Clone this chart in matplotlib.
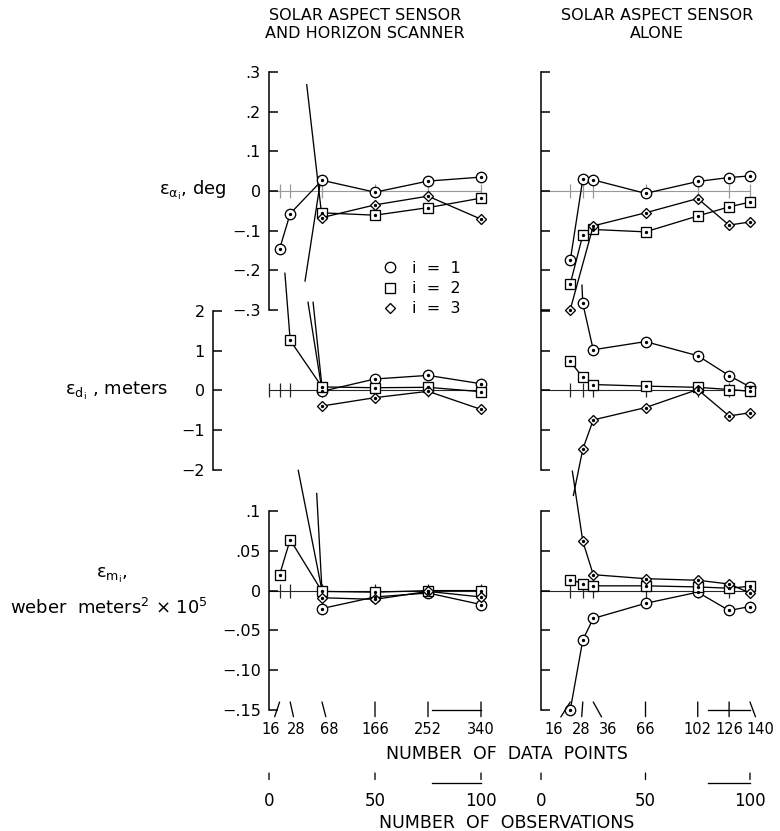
import numpy as np
import matplotlib
matplotlib.use('Agg')
import matplotlib.pyplot as plt
from matplotlib.lines import Line2D

plt.rcParams['font.family'] = ['DejaVu Sans']
plt.rcParams['mathtext.default'] = 'regular'

W, H = 780, 831
FS = 11.5
nan = np.nan

# ================================
# Data
# ================================
# number of observations at each solution, and the matching number of data points
obs_left = [5, 10, 25, 50, 75, 100]
obs_right = [14, 20, 25, 50, 75, 90, 100]
dp_left = ['16', '28', '68', '166', '252', '340']
dp_right = ['16', '28', '36', '66', '102', '126', '140']
obs_ticks = [0, 50, 100]

# solar aspect sensor and horizon scanner
alpha_left_1 = [-0.146, -0.057, 0.027, -0.003, 0.025, 0.035]
alpha_left_2 = [nan, nan, -0.055, -0.061, -0.042, -0.018]
alpha_left_3 = [nan, nan, -0.067, -0.035, -0.013, -0.071]
d_left_1 = [nan, nan, -0.02, 0.29, 0.38, 0.17]
d_left_2 = [nan, 1.26, 0.09, 0.07, 0.08, -0.03]
d_left_3 = [nan, nan, -0.39, -0.18, -0.02, -0.475]
m_left_1 = [nan, nan, -0.0225, -0.008, -0.003, -0.0175]
m_left_2 = [0.02, 0.064, -0.001, -0.002, 0.0, 0.0]
m_left_3 = [nan, nan, -0.009, -0.011, -0.001, -0.008]

# solar aspect sensor alone
alpha_right_1 = [-0.175, 0.03, 0.028, -0.006, 0.024, 0.034, 0.038]
alpha_right_2 = [-0.234, -0.111, -0.097, -0.103, -0.063, -0.040, -0.028]
alpha_right_3 = [-0.299, nan, -0.088, -0.055, -0.019, -0.086, -0.078]
d_right_1 = [nan, 2.19, 1.025, 1.23, 0.875, 0.375, 0.09]
d_right_2 = [0.73, 0.33, 0.15, 0.11, 0.08, 0.025, -0.02]
d_right_3 = [nan, -1.475, -0.74, -0.43, 0.025, -0.64, -0.56]
m_right_1 = [-0.15, -0.062, -0.035, -0.016, -0.002, -0.025, -0.02]
m_right_2 = [0.0138, 0.0088, 0.006, 0.006, 0.0046, 0.003, 0.0054]
m_right_3 = [nan, 0.062, 0.02, 0.015, 0.013, 0.0083, -0.003]

# pieces of line coming in from off-scale values: (obs0, val0, obs1, val1)
stubs_alpha_left = [(17.8, 0.268, 25, -0.067), (17.0, -0.227, 24.0, 0.015)]
stubs_d_left = [(7.5, 2.95, 10, 1.26), (18.4, 2.22, 25, 0.0), (20.8, 2.22, 25, 0.09)]
stubs_m_left = [(13.8, 0.151, 25, 0.0), (22.5, 0.122, 25, 0.0)]
stubs_alpha_right = []
stubs_d_right = [(19.6, 2.65, 20, 2.19), (15.5, -2.64, 20, -1.475)]
stubs_m_right = [(15.0, 0.15, 20, 0.062)]

# bracket marks along the bottom scales (obs from, obs to)
bracket_left = (77, 100)
bracket_right = (80, 100)

alpha_ticks = [0.3, 0.2, 0.1, 0, -0.1, -0.2, -0.3]
alpha_labels = ['.3', '.2', '.1', '0', '\u2212.1', '\u2212.2', '\u2212.3']
d_ticks = [2, 1, 0, -1, -2]
d_labels = ['2', '1', '0', '\u22121', '\u22122']
m_ticks = [0.1, 0.05, 0, -0.05, -0.10, -0.15]
m_labels = ['.1', '.05', '0', '\u2212.05', '\u2212.10', '\u2212.15']

# label shifts (pixels) for the crowded data point counts
dp_shift_left = [-9, 6, 7, 0, 0, 0]
dp_shift_right = [-17, -2, 15, 0, 0, 0, 10]

PT = 0.72  # points per pixel at 100 dpi
markers = [('o', 7.5), ('s', 6.5), ('D', 5.2)]

fig = plt.figure(figsize=(W / 100, H / 100), dpi=100)


def make_axes(left_px, spine_px, scale, top_px, bottom_px, ylim, xmax=110):
    xmin = (left_px - spine_px) / scale
    width = (xmax - xmin) * scale
    ax = fig.add_axes([left_px / W, 1 - bottom_px / H, width / W, (bottom_px - top_px) / H])
    ax.set_xlim(xmin, xmax)
    ax.set_ylim(*ylim)
    ax.patch.set_visible(False)
    for s in ('top', 'right', 'bottom'):
        ax.spines[s].set_visible(False)
    ax.spines['left'].set_linewidth(1.1)
    ax.tick_params(axis='y', direction='in', length=6.5, width=1.1, pad=6, labelsize=FS)
    ax.set_xticks([])
    return ax


def draw_panel(ax, obs, series, stubs, zero_color, with_origin_tick=False):
    ticks_x = list(obs) + ([0] if with_origin_tick else [])
    ax.plot([0, 100], [0, 0], color=zero_color, lw=0.8, zorder=1, clip_on=False)
    ax.plot(ticks_x, np.zeros(len(ticks_x)), ls='none', marker='|', ms=10,
            mew=0.9, color=zero_color, zorder=1, clip_on=False)
    for x0, y0, x1, y1 in stubs:
        ax.plot([x0, x1], [y0, y1], color='black', lw=0.95, zorder=2, clip_on=False)
    x = np.array(obs, dtype=float)
    for vals, (mk, ms) in zip(series, markers):
        v = np.array(vals, dtype=float)
        ok = ~np.isnan(v)
        ax.plot(x[ok], v[ok], color='black', lw=0.95, marker=mk, ms=ms, mfc='white',
                mec='black', mew=0.95, zorder=3, clip_on=False)
        ax.plot(x[ok], v[ok], ls='none', marker='o', ms=1.4, color='black',
                zorder=4, clip_on=False)


def count_row(ax, obs, labels, shifts, tick_px, label_px, shrink, size):
    # ticks with leader lines and count labels below the bottom of ax
    h_px = ax.get_position().height * H
    for x, lab, dx in zip(obs, labels, shifts):
        ax.annotate(lab, xy=(x, tick_px / h_px), xycoords=('data', 'axes fraction'),
                    xytext=(dx * PT, -label_px * PT), textcoords='offset points',
                    ha='center', va='center', fontsize=size, annotation_clip=False,
                    arrowprops=dict(arrowstyle='-', lw=0.95, color='black',
                                    shrinkA=shrink, shrinkB=0))


columns = [
    dict(spine=269, scale=2.12, obs=obs_left, dp=dp_left, shift=dp_shift_left,
         alpha=[alpha_left_1, alpha_left_2, alpha_left_3],
         d=[d_left_1, d_left_2, d_left_3], m=[m_left_1, m_left_2, m_left_3],
         stubs=(stubs_alpha_left, stubs_d_left, stubs_m_left),
         mid_left=213, bracket=bracket_left, labels=True),
    dict(spine=541, scale=2.09, obs=obs_right, dp=dp_right, shift=dp_shift_right,
         alpha=[alpha_right_1, alpha_right_2, alpha_right_3],
         d=[d_right_1, d_right_2, d_right_3], m=[m_right_1, m_right_2, m_right_3],
         stubs=(stubs_alpha_right, stubs_d_right, stubs_m_right),
         mid_left=541, bracket=bracket_right, labels=False),
]

for col in columns:
    sp, sc = col['spine'], col['scale']
    ax_a = make_axes(sp, sp, sc, 72, 310, (-0.3, 0.3))
    ax_d = make_axes(col['mid_left'], sp, sc, 311, 470, (-2, 2))
    ax_m = make_axes(sp, sp, sc, 511, 710, (-0.15, 0.1))
    ax_a.set_yticks(alpha_ticks, alpha_labels if col['labels'] else [])
    ax_d.set_yticks(d_ticks, d_labels if col['labels'] else [])
    ax_m.set_yticks(m_ticks, m_labels if col['labels'] else [])

    draw_panel(ax_a, col['obs'], col['alpha'], col['stubs'][0], '0.6')
    draw_panel(ax_d, col['obs'], col['d'], col['stubs'][1], '0.15',
               with_origin_tick=col['labels'])
    draw_panel(ax_m, col['obs'], col['m'], col['stubs'][2], '0.15')

    # number of data points along the bottom of the lower panel
    count_row(ax_m, col['obs'], col['dp'], col['shift'], 8, 27, 1.5, 10.5)
    b0, b1 = col['bracket']
    ax_m.plot([b0, b1], [0, 0], color='black', lw=0.95,
              transform=ax_m.get_xaxis_transform(), clip_on=False)

    # number of observations scale
    ax_o = make_axes(sp, sp, sc, 773, 783, (0, 1))
    ax_o.spines['left'].set_visible(False)
    ax_o.set_yticks([])
    count_row(ax_o, obs_ticks, [str(t) for t in obs_ticks], [0, 0, 0], 10, 28, 7, 12)
    ax_o.plot([b0, b1], [0, 0], color='black', lw=0.95,
              transform=ax_o.get_xaxis_transform(), clip_on=False)

# legend
handles = [Line2D([], [], ls='none', marker=mk, ms=ms, mfc='white', mec='black', mew=0.95)
           for mk, ms in markers]
fig.legend(handles, ['i  =  1', 'i  =  2', 'i  =  3'], loc='upper left',
           bbox_to_anchor=(382 / W, 1 - 261 / H), frameon=False, fontsize=FS,
           handlelength=1.0, handletextpad=0.9, labelspacing=0.32,
           borderpad=0, borderaxespad=0)

# titles and axis texts
fig.text(365 / W, 1 - 24 / H, 'SOLAR ASPECT SENSOR\nAND HORIZON SCANNER',
         ha='center', va='center', fontsize=FS, linespacing=1.25)
fig.text(657 / W, 1 - 24 / H, 'SOLAR ASPECT SENSOR\nALONE',
         ha='center', va='center', fontsize=FS, linespacing=1.25)
fig.text(226 / W, 1 - 190 / H, r'$\epsilon_{\alpha_i}$, deg', ha='right', va='center',
         fontsize=13)
fig.text(168 / W, 1 - 391 / H, r'$\epsilon_{d_i}$ , meters', ha='right', va='center',
         fontsize=13)
fig.text(112 / W, 1 - 575 / H, r'$\epsilon_{m_i}$,', ha='center', va='center',
         fontsize=13)
fig.text(109 / W, 1 - 608 / H, r'weber  meters$^2$ $\times$ 10$^5$', ha='center',
         va='center', fontsize=13)
fig.text(507 / W, 1 - 754 / H, 'NUMBER  OF  DATA  POINTS', ha='center', va='center',
         fontsize=12.5)
fig.text(507 / W, 1 - 823 / H, 'NUMBER  OF  OBSERVATIONS', ha='center', va='center',
         fontsize=12.5)

fig.savefig('out.png', dpi=100, facecolor='white')
